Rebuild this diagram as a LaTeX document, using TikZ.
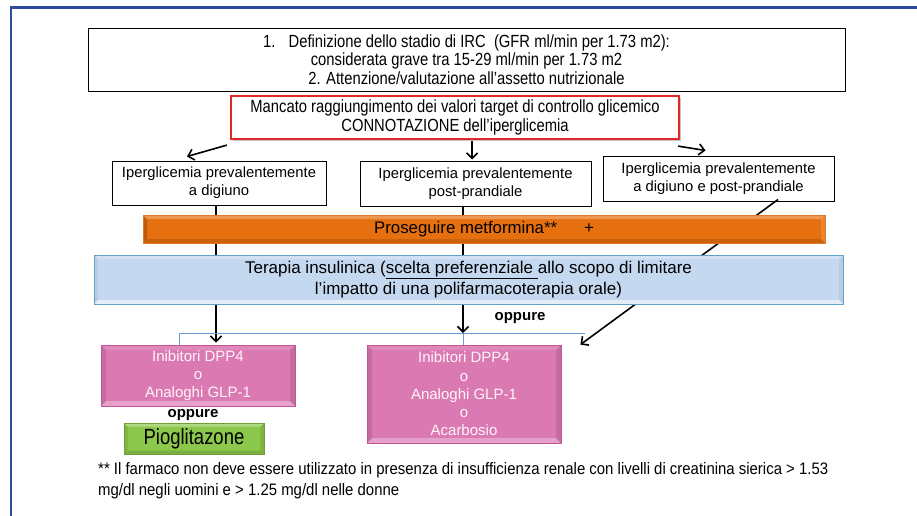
\documentclass[tikz,border=0pt]{standalone}
\usepackage{fontspec}
\setmainfont{Liberation Sans}
\newfontfamily\narrowf[FakeStretch=0.84]{Liberation Sans}
\newfontfamily\footf[FakeStretch=0.9]{Liberation Sans}
\usetikzlibrary{arrows.meta,calc,shadows}
\definecolor{framec}{HTML}{2B4A9C}
\definecolor{redc}{HTML}{E02828}
\definecolor{orangeM}{HTML}{E6700F}
\definecolor{orangeB}{HTML}{E07A2A}
\definecolor{blueM}{HTML}{C4D8F0}
\definecolor{blueB}{HTML}{5FA3C6}
\definecolor{pinkM}{HTML}{DB79B2}
\definecolor{pinkB}{HTML}{C2559A}
\definecolor{greenM}{HTML}{8CC84B}
\definecolor{greenB}{HTML}{6E9E34}
\definecolor{bracketc}{HTML}{6A9AD8}
\definecolor{pinktext}{HTML}{FFF4FA}
\newcommand\bevelpic[5]{%
  \coordinate (bnw) at (path picture bounding box.north west);
  \coordinate (bne) at (path picture bounding box.north east);
  \coordinate (bsw) at (path picture bounding box.south west);
  \coordinate (bse) at (path picture bounding box.south east);
  \fill[#2] (bnw) -- (bne) -- ([shift={(-#1,-#1)}]bne) -- ([shift={(#1,-#1)}]bnw) -- cycle;
  \fill[#3] (bsw) -- (bse) -- ([shift={(-#1,#1)}]bse) -- ([shift={(#1,#1)}]bsw) -- cycle;
  \fill[#4] (bnw) -- (bsw) -- ([shift={(#1,#1)}]bsw) -- ([shift={(#1,-#1)}]bnw) -- cycle;
  \fill[#5] (bne) -- (bse) -- ([shift={(-#1,#1)}]bse) -- ([shift={(-#1,-#1)}]bne) -- cycle;
}
\begin{document}
\begin{tikzpicture}[x=1pt,y=-1pt,
  narrowtxt/.style={font=\narrowf\fontsize{17.6}{18.6}\selectfont},
  regtxt/.style={font=\fontsize{14.8}{18}\selectfont},
  whitebox/.style={draw=black, line width=1pt, fill=white, align=center, inner sep=0pt,
    drop shadow={shadow xshift=1.2pt, shadow yshift=-1.2pt, fill=black!35}},
  redbox/.style={draw=redc, line width=2.2pt, fill=white, align=center, inner sep=0pt,
    drop shadow={shadow xshift=1.5pt, shadow yshift=-1.5pt, fill=black!45}},
  orangebar/.style={draw=orangeB, line width=0.6pt, fill=orangeM, inner sep=0pt,
    font=\fontsize{16.8}{19}\selectfont,
    path picture={\bevelpic{4pt}{white,opacity=0.28}{black,opacity=0.12}{black,opacity=0.18}{white,opacity=0.15}}},
  bluebar/.style={draw=blueB, line width=1pt, fill=blueM, align=center, inner sep=0pt,
    font=\fontsize{17}{21}\selectfont,
    path picture={\bevelpic{4pt}{white,opacity=0.25}{white,opacity=0.55}{black,opacity=0.05}{black,opacity=0.05}}},
  pinkbox/.style={draw=pinkB, line width=0.8pt, fill=pinkM, align=center, inner sep=0pt,
    text=pinktext, font=\fontsize{15}{18.2}\selectfont,
    path picture={\bevelpic{5pt}{white,opacity=0.12}{white,opacity=0.3}{black,opacity=0.1}{black,opacity=0.1}}},
  greenbox/.style={draw=greenB, line width=0.8pt, fill=greenM, inner sep=0pt,
    font=\narrowf\fontsize{22}{22}\selectfont,
    path picture={\bevelpic{3.5pt}{white,opacity=0.3}{black,opacity=0.12}{black,opacity=0.1}{black,opacity=0.1}}},
  arr/.style={line width=1.6pt, -{Straight Barb[length=5.5pt,width=11pt]}},
  bracket/.style={draw=bracketc, line width=0.8pt},
  lbl/.style={inner sep=0pt, font=\bfseries\fontsize{15}{17}\selectfont}
]
\useasboundingbox (0,0) rectangle (917,515);
\fill[white] (0,0) rectangle (917,515);
\draw[framec, line width=2.8pt] (11,520) -- (11,7.5) -- (922,7.5);

% nodes
\node[whitebox, narrowtxt, minimum width=757pt, minimum height=63pt] (top) at (466.5,59.5)
  {1.\hspace{0.75em}Definizione dello stadio di IRC\ \ (GFR ml/min per 1.73 m2):\\
   considerata grave tra 15-29 ml/min per 1.73 m2\\
   2. Attenzione/valutazione all’assetto nutrizionale};
\node[redbox, narrowtxt, minimum width=448pt, minimum height=43pt] (red) at (455,117.5)
  {Mancato raggiungimento dei valori target di controllo glicemico\\
   CONNOTAZIONE dell’iperglicemia};
\node[whitebox, regtxt, minimum width=214pt, minimum height=44pt] (A) at (219,183)
  {Iperglicemia prevalentemente\\ a digiuno};
\node[whitebox, regtxt, minimum width=231pt, minimum height=45pt] (B) at (475.5,183.5)
  {Iperglicemia prevalentemente\\ post-prandiale};
\node[whitebox, regtxt, minimum width=231pt, minimum height=45pt] (C) at (718.5,178.5)
  {Iperglicemia prevalentemente\\ a digiuno e post-prandiale};

\node[pinkbox, minimum width=194pt, minimum height=61pt] (P1) at (198,375.5)
  {Inibitori DPP4\\ o\\ Analoghi GLP-1};
\node[pinkbox, minimum width=194pt, minimum height=98pt] (P2) at (464,394)
  {Inibitori DPP4\\ o\\ Analoghi GLP-1\\ o\\ Acarbosio};

% coordinates
\coordinate (jB) at (463,333);
\coordinate (brR) at (585,333);

% connectors (behind bars)
\draw[arr] ($(red.south west)+(-3,5)$) -- ($(A.north)+(-32,-4)$);
\draw[arr] ($(red.south)+(17,1)$) -- ($(B.north)+(-3.5,-1)$);
\draw[arr] ($(red.south east)+(-2,6)$) -- ($(C.north)+(-13,-5)$);
\draw[arr] ($(A.south)+(-3,0)$) -- ($(P1.north)+(18,-2)$);
\draw[bracket] ($(P1.north)+(-19,0)$) |- (brR);
\draw[bracket] (jB) -- (jB |- P2.north);
\draw[arr] ($(B.south)+(-12.5,0)$) -- (jB);
\draw[arr] ($(C.south)+(59.5,-2)$) -- ($(P2.north east)+(19,0)$);

% bars on top
\node[orangebar, minimum width=682pt, minimum height=28pt] (met) at (484,229)
  {Proseguire metformina**\hspace{1.6em}+};
\node[bluebar, minimum width=749pt, minimum height=49pt] (ins) at (468.5,279.5)
  {Terapia insulinica (\underline{scelta preferenziale\ }allo scopo di limitare\\
   l’impatto di una polifarmacoterapia orale)};

\node[lbl] (opp2) at (520,318) {oppure};
\node[lbl] (opp1) at (193,415) {oppure};
\node[greenbox, minimum width=140pt, minimum height=31pt] (pio) at (194,438.5) {Pioglitazone};

\node[anchor=west, align=left, inner sep=0pt, font=\footf\fontsize{16.6}{21}\selectfont] (fn) at (98,480.5)
  {** Il farmaco non deve essere utilizzato in presenza di insufficienza renale con livelli di creatinina sierica > 1.53\\
   mg/dl negli uomini e > 1.25 mg/dl nelle donne};
\end{tikzpicture}
\end{document}
